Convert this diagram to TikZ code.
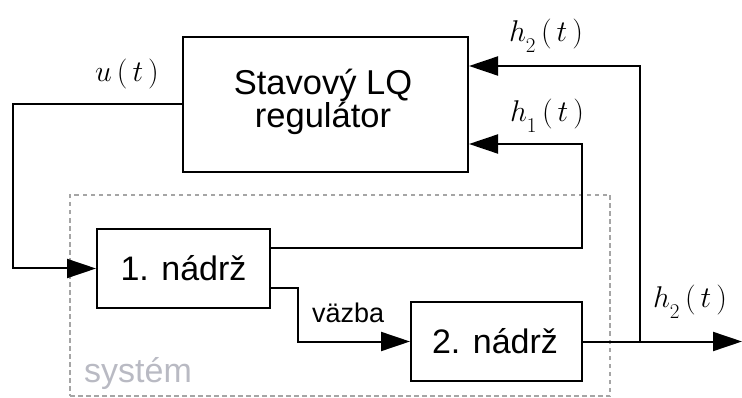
\RequirePackage{fix-cm}
\documentclass[tikz,border=0pt]{standalone}
\usepackage[no-math]{fontspec}
\newfontfamily\arial{Liberation Sans}
\usetikzlibrary{arrows.meta}
\definecolor{sysgray}{RGB}{185,186,195}
\definecolor{dashgray}{RGB}{165,165,165}
\begin{document}
\begin{tikzpicture}[x=1pt,y=-1pt,
  blk/.style={draw=black,line width=2pt,fill=white,inner sep=0pt,font=\arial\fontsize{34}{34}\selectfont},
  wire/.style={line width=2pt},
  arr/.style={wire,-{Triangle[length=29pt,width=19pt]}},
  lbl/.style={anchor=base,inner sep=0pt,font=\fontsize{30}{30}\selectfont}]
\useasboundingbox (0,0) rectangle (742,398);
% system boundary
\node[draw=dashgray,line width=1.6pt,dash pattern=on 4.5pt off 3.5pt,minimum width=540pt,minimum height=201pt,inner sep=0pt] (sys) at (340,295.5) {};
\node[anchor=base west,inner sep=0pt,text=sysgray,font=\arial\fontsize{34}{34}\selectfont] (systxt) at (84,382) {systém};
% blocks
\node[blk,minimum width=285pt,minimum height=135pt] (reg) at (325.5,104.5) {};
\node[anchor=base,inner sep=0pt,font=\arial\fontsize{34.5}{34.5}\selectfont] (regt1) at (323,95) {Stavový LQ};
\node[anchor=base,inner sep=0pt,font=\arial\fontsize{34.5}{34.5}\selectfont] (regt2) at (323,128) {regulátor};
\node[blk,minimum width=173pt,minimum height=79pt] (t1) at (183.5,268.5) {};
\node[anchor=base,inner sep=0pt,font=\arial\fontsize{34}{34}\selectfont] (t1t) at (183.5,280) {1. nádrž};
\node[blk,minimum width=171pt,minimum height=79pt] (t2) at (496.5,341.5) {};
\node[anchor=base,inner sep=0pt,font=\arial\fontsize{34}{34}\selectfont] (t2t) at (495,353) {2. nádrž};
% helper coordinates
\coordinate (uc) at (13,105);
\coordinate (h1c) at (582,144);
\coordinate (h2c) at (640,66);
\coordinate (vz) at (298,288);
\coordinate (out) at (742,341.5);
% connectors
\draw[arr] (reg.west) -- (reg.west -| uc) |- (t1.west);
\draw[arr] ([yshift=20.5pt]t1.east) -| (h1c) -- (h1c -| reg.east);
\draw[arr] ([yshift=-19.5pt]t1.east) -- (vz) |- (t2.west);
\draw[arr] (t2.east) -- (out);
\draw[arr] (t2.east -| h2c) -- (h2c) -- (h2c -| reg.east);
% labels
\node[anchor=base west,inner sep=0pt,font=\arial\fontsize{27}{27}\selectfont] (vzt) at (312,323) {väzba};
\node[lbl] (ul) at (127,82) {$u\,(\,t\,)$};
\node[lbl] (h2l) at (546,42) {$h_{\lower6pt\hbox{$\scriptstyle 2$}}\,(\,t\,)$};
\node[lbl] (h1l) at (547,122) {$h_{\lower6pt\hbox{$\scriptstyle 1$}}\,(\,t\,)$};
\node[lbl] (h2o) at (690,308) {$h_{\lower6pt\hbox{$\scriptstyle 2$}}\,(\,t\,)$};
\end{tikzpicture}
\end{document}
